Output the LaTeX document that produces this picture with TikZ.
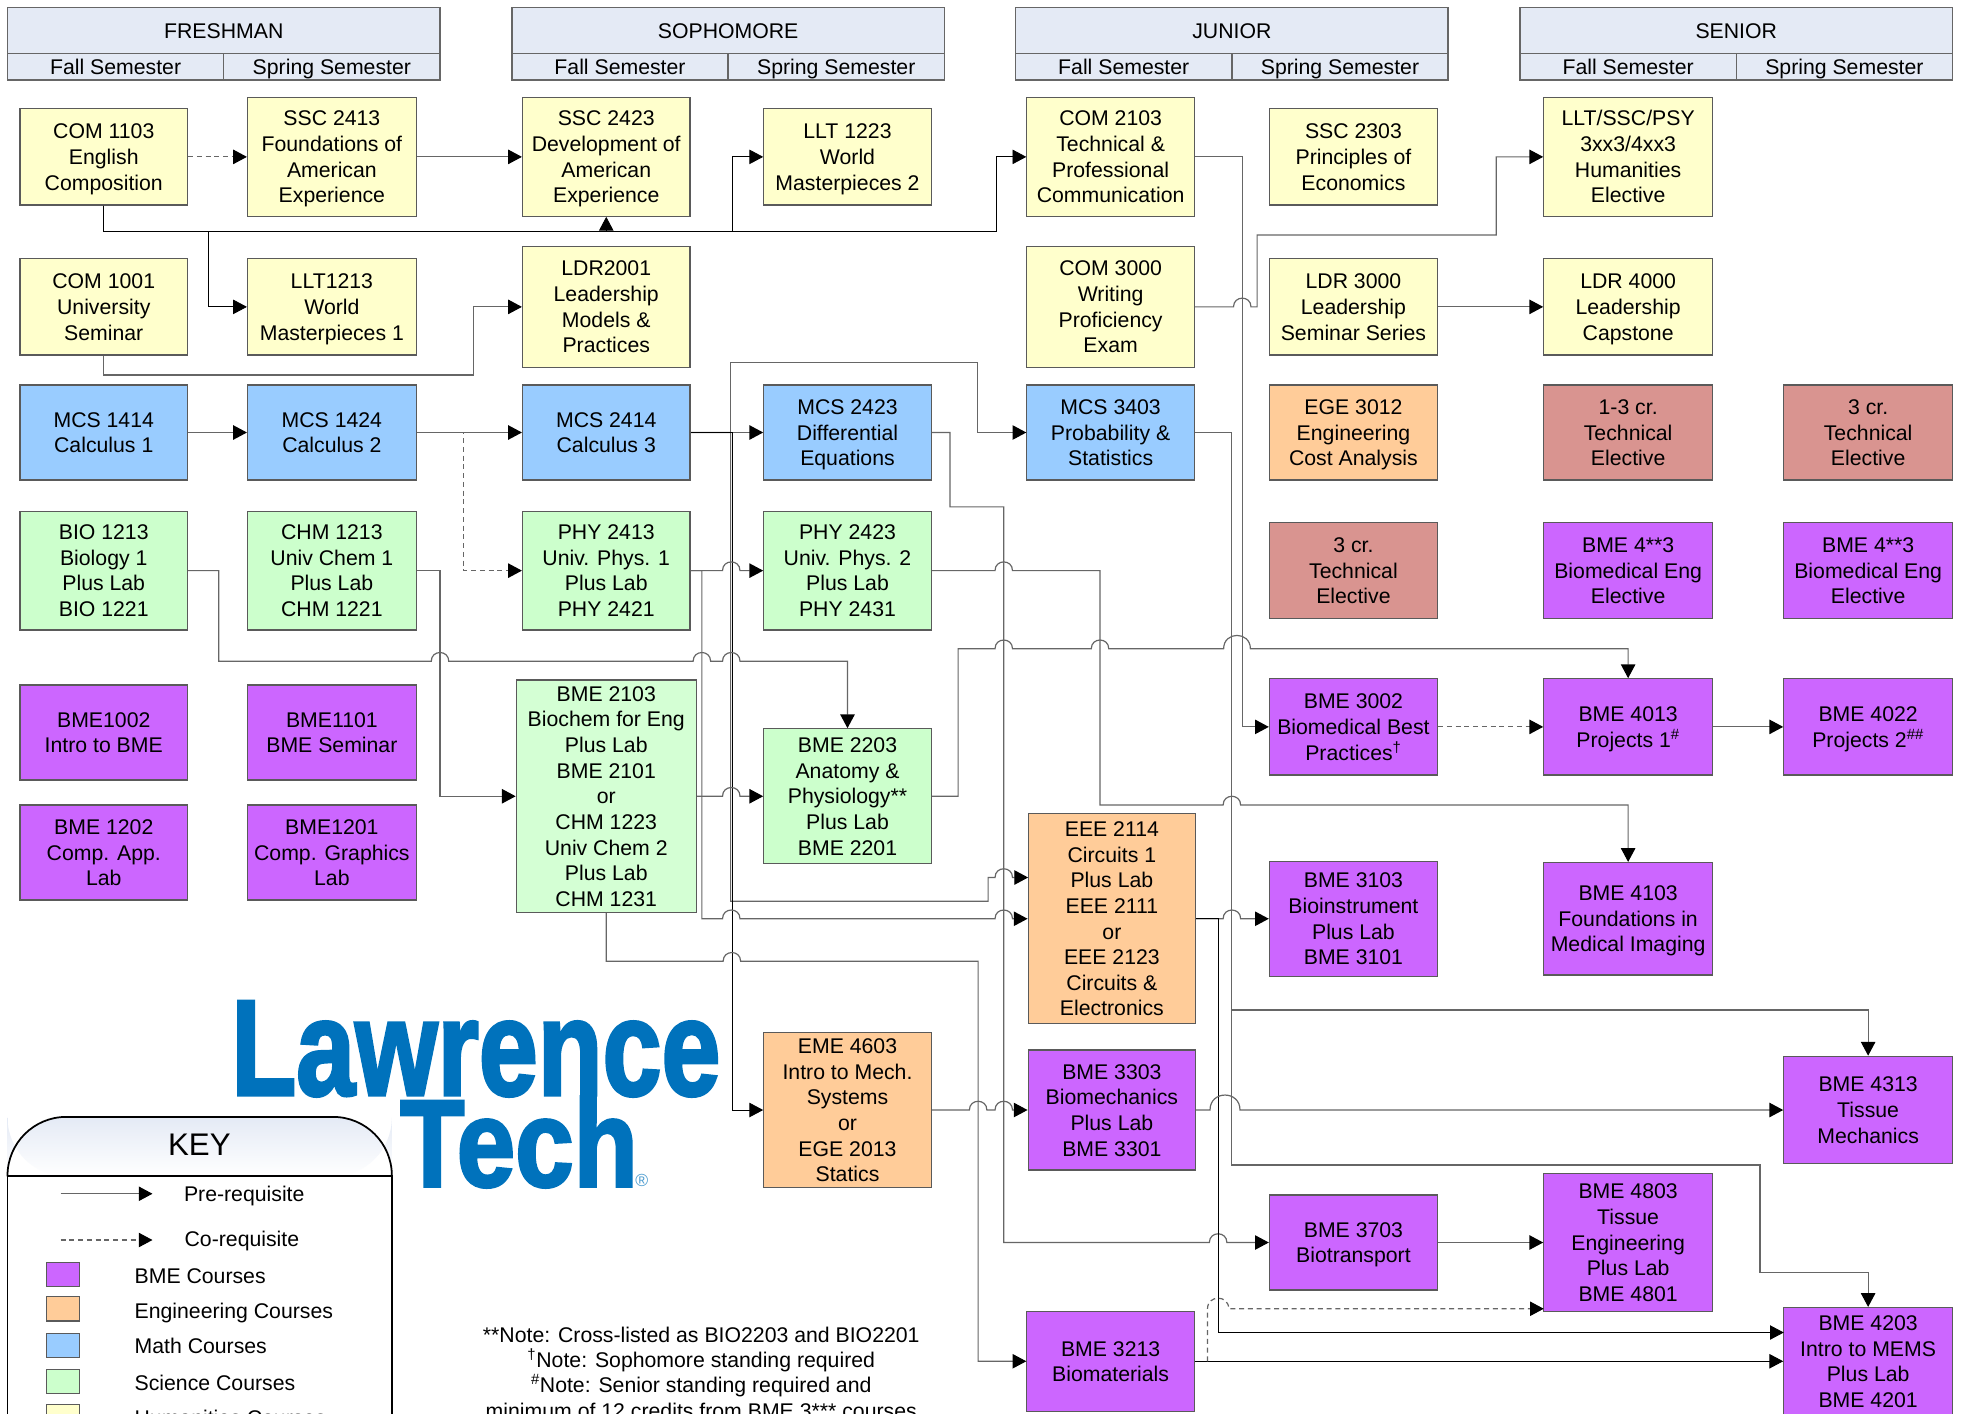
\documentclass[tikz,border=0pt]{standalone}
\usepackage{fontspec}
\setmainfont{Liberation Sans}
\newfontfamily\logofont[BoldFeatures={FakeBold=2.5}]{Liberation Sans}
\usetikzlibrary{arrows.meta}
\definecolor{cyel}{HTML}{FFFFCC}
\definecolor{cblu}{HTML}{99CCFF}
\definecolor{cgrn}{HTML}{CCFFCC}
\definecolor{cgrl}{HTML}{D4FFD4}
\definecolor{cpur}{HTML}{CC66FF}
\definecolor{corg}{HTML}{FFCC99}
\definecolor{cred}{HTML}{D99490}
\definecolor{chdr}{HTML}{E4EAF5}
\definecolor{cline}{HTML}{666666}
\definecolor{cedge}{HTML}{5A5A5A}
\definecolor{clogo}{HTML}{0072BC}
\tikzset{
  crsbox/.style={draw=cedge,line width=.9pt,inner sep=0pt,align=center,text=black,
    font=\fontsize{17}{20.5}\selectfont},
  fyel/.style={crsbox,fill=cyel},
  fblu/.style={crsbox,fill=cblu},
  fgrn/.style={crsbox,fill=cgrn},
  fgrl/.style={crsbox,fill=cgrl},
  fpur/.style={crsbox,fill=cpur},
  forg/.style={crsbox,fill=corg},
  fred/.style={crsbox,fill=cred},
  fhdr/.style={crsbox,fill=chdr,draw=cline,line width=1.1pt},
  tiph/.style={-{Triangle[length=11pt,width=11.5pt,black]}},
  pre/.style={tiph,draw=cline,line width=.95pt},
  prek/.style={tiph,draw=black,line width=.65pt},
  co/.style={tiph,draw=cline,line width=.95pt,dash pattern=on 4pt off 3pt},
  keytext/.style={anchor=base west,inner sep=0pt,font=\fontsize{17}{20}\selectfont},
  swatch/.style={draw=cedge,line width=.9pt,minimum width=26pt,minimum height=19.5pt,inner sep=0pt},
}
\newcommand{\crs}[7]{\node[#2,minimum width={((#5)-(#3))*1pt},minimum height={((#6)-(#4))*1pt}] (#1) at ({((#3)+(#5))/2},{((#4)+(#6))/2}) {\rule{0pt}{15.6pt}#7\vphantom{Ag}};}
\newcommand{\hjr}[3]{-- ({#1-#3},#2) .. controls ({#1-#3},{#2-1.33*#3}) and ({#1+#3},{#2-1.33*#3}) .. ({#1+#3},#2) }
\newcommand{\hj}[2]{\hjr{#1}{#2}{7}}
\newcommand{\yearhdr}[3]{%
  \crs{#1}{fhdr}{#2}{6}{#2+346}{43}{#3}
  \crs{#1F}{fhdr}{#2}{43}{#2+173}{64}{Fall Semester}
  \crs{#1S}{fhdr}{#2+173}{43}{#2+346}{64}{Spring Semester}}
\begin{document}
\begin{tikzpicture}[x=1pt,y=-1pt]
\useasboundingbox (0,0) rectangle (1568.8,1130.4);
\clip (0,0) rectangle (1568.8,1130.4);
\fill[white] (0,0) rectangle (1568.8,1130.4);

% headers
\yearhdr{fresh}{6}{FRESHMAN}
\yearhdr{soph}{409.5}{SOPHOMORE}
\yearhdr{jun}{812.5}{JUNIOR}
\yearhdr{sen}{1216}{SENIOR}

% courses
\crs{com1103}{fyel}{16}{87}{150}{164}{COM 1103\\English\\Composition}
\crs{ssc2413}{fyel}{198}{78}{333}{173}{SSC 2413\\Foundations of\\American\\Experience}
\crs{ssc2423}{fyel}{418}{78}{552}{173}{SSC 2423\\Development of\\American\\Experience}
\crs{llt1223}{fyel}{611}{87}{745}{164}{LLT 1223\\World\\Masterpieces 2}
\crs{com2103}{fyel}{821.5}{78}{955.5}{173}{COM 2103\\Technical \&\\Professional\\Communication}
\crs{ssc2303}{fyel}{1015.5}{87}{1150}{164}{SSC 2303\\Principles of\\Economics}
\crs{lltxx}{fyel}{1235}{78}{1370}{173}{LLT/SSC/PSY\\3xx3/4xx3\\Humanities\\Elective}
\crs{com1001}{fyel}{16}{207}{150}{284}{COM 1001\\University\\Seminar}
\crs{llt1213}{fyel}{198}{207}{333}{284}{LLT1213\\World\\Masterpieces 1}
\crs{ldr2001}{fyel}{418}{197}{552}{294}{LDR2001\\Leadership\\Models \&\\Practices}
\crs{com3000}{fyel}{821.5}{197}{955.5}{294}{COM 3000\\Writing\\Proficiency\\Exam}
\crs{ldr3000}{fyel}{1015.5}{207}{1150}{284}{LDR 3000\\Leadership\\Seminar Series}
\crs{ldr4000}{fyel}{1235}{207}{1370}{284}{LDR 4000\\Leadership\\Capstone}
\crs{mcs1414}{fblu}{16}{308}{150}{384}{MCS 1414\\Calculus 1}
\crs{mcs1424}{fblu}{198}{308}{333}{384}{MCS 1424\\Calculus 2}
\crs{mcs2414}{fblu}{418}{308}{552}{384}{MCS 2414\\Calculus 3}
\crs{mcs2423}{fblu}{611}{308}{745}{384}{MCS 2423\\Differential\\Equations}
\crs{mcs3403}{fblu}{821.5}{308}{955.5}{384}{MCS 3403\\Probability \&\\Statistics}
\crs{ege3012}{forg}{1015.5}{308}{1150}{384}{EGE 3012\\Engineering\\Cost Analysis}
\crs{techa}{fred}{1235}{308}{1370}{384}{1-3 cr.\\Technical\\Elective}
\crs{techb}{fred}{1427}{308}{1562}{384}{3 cr.\\Technical\\Elective}
\crs{bio1213}{fgrn}{16}{409}{150}{504}{BIO 1213\\Biology 1\\Plus Lab\\BIO 1221}
\crs{chm1213}{fgrn}{198}{409}{333}{504}{CHM 1213\\Univ Chem 1\\Plus Lab\\CHM 1221}
\crs{phy2413}{fgrn}{418}{409}{552}{504}{PHY 2413\\Univ. Phys. 1\\Plus Lab\\PHY 2421}
\crs{phy2423}{fgrn}{611}{409}{745}{504}{PHY 2423\\Univ. Phys. 2\\Plus Lab\\PHY 2431}
\crs{techc}{fred}{1015.5}{418}{1150}{495}{3 cr.\\Technical\\Elective}
\crs{bmeea}{fpur}{1235}{418}{1370}{495}{BME 4**3\\Biomedical Eng\\Elective}
\crs{bmeeb}{fpur}{1427}{418}{1562}{495}{BME 4**3\\Biomedical Eng\\Elective}
\crs{bme1002}{fpur}{16}{548}{150}{624}{BME1002\\Intro to BME}
\crs{bme1101}{fpur}{198}{548}{333}{624}{BME1101\\BME Seminar}
\crs{bme2103}{fgrl}{413}{544}{557}{730}{BME 2103\\Biochem for Eng\\Plus Lab\\BME 2101\\or\\CHM 1223\\Univ Chem 2\\Plus Lab\\CHM 1231}
\crs{bme2203}{fgrn}{611}{583}{745}{691}{BME 2203\\Anatomy \&\\Physiology**\\Plus Lab\\BME 2201}
\crs{bme3002}{fpur}{1015.5}{543}{1150}{620}{BME 3002\\Biomedical Best\\Practices\textsuperscript{†}}
\crs{bme4013}{fpur}{1235}{543}{1370}{620}{BME 4013\\Projects 1\textsuperscript{\#}}
\crs{bme4022}{fpur}{1427}{543}{1562}{620}{BME 4022\\Projects 2\textsuperscript{\#\#}}
\crs{bme1202}{fpur}{16}{644}{150}{720}{BME 1202\\Comp. App.\\Lab}
\crs{bme1201}{fpur}{198}{644}{333}{720}{BME1201\\Comp. Graphics\\Lab}
\crs{eee2114}{forg}{822.5}{651}{956.5}{819}{EEE 2114\\Circuits 1\\Plus Lab\\EEE 2111\\or\\EEE 2123\\Circuits \&\\Electronics}
\crs{bme3103}{fpur}{1015.5}{689}{1150}{781}{BME 3103\\Bioinstrument\\Plus Lab\\BME 3101}
\crs{bme4103}{fpur}{1235}{690}{1370}{780}{BME 4103\\Foundations in\\Medical Imaging}
\crs{eme4603}{forg}{611}{826}{745}{950}{EME 4603\\Intro to Mech.\\Systems\\or\\EGE 2013\\Statics}
\crs{bme3303}{fpur}{822.5}{840}{956.5}{936}{BME 3303\\Biomechanics\\Plus Lab\\BME 3301}
\crs{bme4313}{fpur}{1427}{845}{1562}{931}{BME 4313\\Tissue\\Mechanics}
\crs{bme3703}{fpur}{1015.5}{956}{1150}{1032}{BME 3703\\Biotransport}
\crs{bme4803}{fpur}{1235}{939}{1370}{1049}{BME 4803\\Tissue\\Engineering\\Plus Lab\\BME 4801}
\crs{bme3213}{fpur}{821.5}{1049}{955.5}{1129}{BME 3213\\Biomaterials}
\crs{bme4203}{fpur}{1427}{1046}{1562}{1132}{BME 4203\\Intro to MEMS\\Plus Lab\\BME 4201}

% free entry points on boxes
\coordinate (eeeup) at (822.5,702);
\coordinate (memsup) at (1427,1066);
\coordinate (tisslow) at (1235,1047);
\coordinate (dsplit) at (966,1089);

% connectors
\draw[co] (com1103.east) -- (ssc2413.west);
\draw[pre] (ssc2413.east) -- (ssc2423.west);
\draw[prek] (com1103.south) -- (83,185) -- (797,185) -- (797,125.5) -- (com2103.west);
\draw[prek] (com1103.south) -- (83,185) -- (485,185) -- (ssc2423.south);
\draw[prek] (com1103.south) -- (83,185) -- (586,185) -- (586,125.5) -- (llt1223.west);
\draw[prek] (com1103.south) -- (83,185) -- (167,185) -- (167,245.5) -- (llt1213.west);
\draw[pre] (com1001.south) -- (83,300) -- (379,300) -- (379,245.5) -- (ldr2001.west);
\draw[pre] (mcs1414.east) -- (mcs1424.west);
\draw[pre] (mcs1424.east) -- (mcs2414.west);
\draw[co] (mcs1424.east) -- (371,346) -- (371,456.5) -- (phy2413.west);
\draw[pre] (mcs2414.east) -- (mcs2423.west);
\draw[pre] (mcs2414.east) -- (584.5,346) -- (584.5,290) -- (782,290) -- (782,346) -- (mcs3403.west);
\draw[pre] (mcs2414.east) -- (584.5,346) -- (584.5,721) -- (790.5,721) -- (790.5,702) \hj{803}{702} -- (eeeup);
\draw[prek] (mcs2414.east) -- (586,346) -- (586,888) -- (eme4603.west);
\draw[pre] (mcs2423.east) -- (760,346) -- (760,405.5) -- (803,405.5) -- (803,994) \hj{974.5}{994} -- (bme3703.west);
\draw[pre] (phy2413.east) \hj{585}{456.5} -- (phy2423.west);
\draw[pre] (phy2413.east) -- (561.5,456.5) -- (561.5,735) \hj{585}{735} \hj{803}{735} -- (eee2114.west);
\draw[pre] (chm1213.east) -- (352,456.5) -- (352,637) -- (bme2103.west);
\draw[pre] (bio1213.east) -- (175,456.5) -- (175,529) \hj{352}{529} \hj{561.5}{529} \hj{585}{529} -- (678,529) -- (bme2203.north);
\draw[pre] (bme2103.east) \hj{585}{637} -- (bme2203.west);
\draw[pre] (bme2203.east) -- (766.5,637) -- (766.5,519) \hj{803}{519} \hj{880}{519} \hjr{989.6}{519}{10.7} -- (1302.5,519) -- (bme4013.north);
\draw[pre] (phy2423.east) \hj{803}{456.5} -- (880,456.5) -- (880,644) \hj{985.5}{644} -- (1302.5,644) -- (bme4103.north);
\draw[pre] (bme2103.south) -- (485,769) \hj{585.5}{769} -- (782.5,769) -- (782.5,1089) -- (bme3213.west);
\draw[pre] (eme4603.east) \hj{782.5}{888} \hj{803}{888} -- (bme3303.west);
\draw[pre] (eee2114.east) \hj{985.5}{735} -- (bme3103.west);
\draw[prek] (eee2114.east) -- (974.5,735) -- (974.5,1066) -- (memsup);
\draw[pre] (bme3303.east) \hjr{980}{888}{12} -- (bme4313.west);
\draw[pre] (mcs3403.east) -- (985.5,346) -- (985.5,932) -- (1408,932) -- (1408,1018) -- (1494.5,1018) -- (bme4203.north);
\draw[pre] (mcs3403.east) -- (985.5,346) -- (985.5,808) -- (1494.5,808) -- (bme4313.north);
\draw[pre] (com2103.east) -- (993.8,125.5) -- (993.8,581.5) -- (bme3002.west);
\draw[pre] (com3000.east) \hj{993.8}{245.5} -- (1005.7,245.5) -- (1005.7,188) -- (1197,188) -- (1197,125.5) -- (lltxx.west);
\draw[pre] (ldr3000.east) -- (ldr4000.west);
\draw[co] (bme3002.east) -- (bme4013.west);
\draw[pre] (bme4013.east) -- (bme4022.west);
\draw[pre] (bme3703.east) -- (bme4803.west);
\draw[prek] (bme3213.east) -- (bme4203.west);
\draw[co] (dsplit) -- (966,1047) \hjr{974.5}{1047}{8.5} -- (tisslow);

% logo
\node[anchor=base west,inner sep=0pt,text=clogo,transform shape,xscale=.778,font=\logofont\fontsize{109}{109}\selectfont\bfseries] (logoa) at (185,876) {Lawrence};
\node[anchor=base west,inner sep=0pt,text=clogo,transform shape,xscale=.85,font=\logofont\fontsize{99}{99}\selectfont\bfseries] (logob) at (320,949) {Tech};
\node[anchor=base west,inner sep=0pt,text=clogo!70,font=\fontsize{14}{14}\selectfont] (logor) at (508,949) {®};

% key
\shade[top color=chdr,bottom color=white,rounded corners=47pt] (6,941) -- (6,893.5) -- (313.5,893.5) -- (313.5,941) -- cycle;
\draw[black,line width=1.4pt,rounded corners=47pt] (6,941) -- (6,893.5) -- (313.5,893.5) -- (313.5,941);
\draw[black,line width=1.4pt] (6,1140) -- (6,941) -- (313.5,941) -- (313.5,1140);
\node[inner sep=0pt,font=\fontsize{25}{25}\selectfont] (keyt) at (159.5,916) {KEY};
\coordinate (prea) at (48.5,955);
\coordinate (preb) at (122,955);
\coordinate (coa) at (48.5,992);
\coordinate (cob) at (122,992);
\draw[pre] (prea) -- (preb);
\draw[co] (coa) -- (cob);
\node[keytext] (tpre) at (147,961) {Pre-requisite};
\node[keytext] (tco) at (147.5,997) {Co-requisite};
\node[swatch,fill=cpur] (s1) at (50.5,1019.5) {};
\node[swatch,fill=corg] (s2) at (50.5,1047) {};
\node[swatch,fill=cblu] (s3) at (50.5,1076.5) {};
\node[swatch,fill=cgrn] (s4) at (50.5,1105) {};
\node[swatch,fill=cyel] (s5) at (50.5,1133.5) {};
\node[keytext] (t1) at (107.5,1027) {BME Courses};
\node[keytext] (t2) at (107.5,1055) {Engineering Courses};
\node[keytext] (t3) at (107.5,1083) {Math Courses};
\node[keytext] (t4) at (107.5,1112) {Science Courses};
\node[keytext] (t5) at (107.5,1140) {Humanities Courses};

% notes
\node[inner sep=0pt,align=center,font=\fontsize{17}{20.3}\selectfont] (notes) at (561,1098) {**Note: Cross-listed as BIO2203 and BIO2201\\\textsuperscript{†}Note: Sophomore standing required\\\textsuperscript{\#}Note: Senior standing required and\\minimum of 12 credits from BME 3*** courses};
\end{tikzpicture}
\end{document}
